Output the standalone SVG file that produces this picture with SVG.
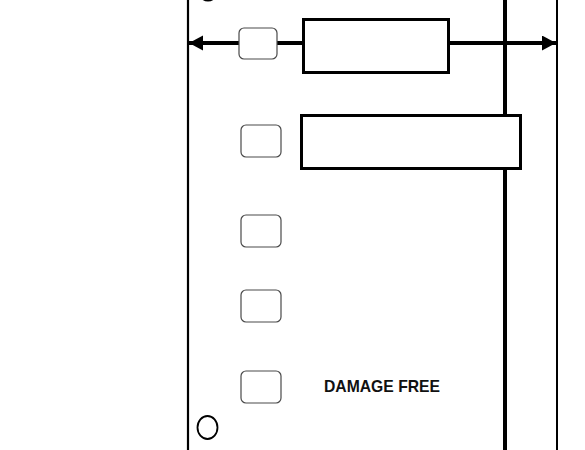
<svg xmlns="http://www.w3.org/2000/svg" width="585" height="450" viewBox="0 0 585 450">
<style>
.lane{stroke:#000;fill:none}
.box{fill:#fff;stroke:#000;stroke-width:3}
.rr{fill:#fff;stroke:#4a4a4a;stroke-width:1.2}
.lbl{font-family:"Liberation Sans",Arial,sans-serif;font-weight:bold;font-size:17px;fill:#111}
</style>
<defs>
<marker id="ah" markerWidth="16" markerHeight="16" refX="14" refY="7.5" orient="auto-start-reverse" markerUnits="userSpaceOnUse">
<path d="M0,0 L14,7.5 L0,15 Z" fill="#000"/>
</marker>
</defs>
<rect width="585" height="450" fill="#fff"/>
<g id="connectors">
<line class="lane" x1="188" y1="0" x2="188" y2="450" stroke-width="2.2"/>
<line class="lane" x1="557" y1="0" x2="557" y2="450" stroke-width="2"/>
<line class="lane" x1="505" y1="0" x2="505" y2="450" stroke-width="4"/>
<line class="lane" x1="189" y1="43" x2="556" y2="43" stroke-width="4" marker-start="url(#ah)" marker-end="url(#ah)"/>
</g>
<g id="top-circle"><ellipse cx="208" cy="-11" rx="10" ry="11.5" fill="none" stroke="#000" stroke-width="2"/></g>
<g id="small-box-0"><rect class="rr" x="239" y="28" width="38" height="31" rx="5"/></g>
<g id="box-1"><rect class="box" x="303.5" y="19.5" width="145" height="53"/></g>
<g id="small-box-1"><rect class="rr" x="241" y="125" width="40" height="32" rx="5"/></g>
<g id="box-2"><rect class="box" x="301.5" y="115.5" width="219" height="53"/></g>
<g id="small-box-2"><rect class="rr" x="241" y="215" width="40" height="32" rx="5"/></g>
<g id="small-box-3"><rect class="rr" x="241" y="290" width="40" height="32" rx="5"/></g>
<g id="small-box-4"><rect class="rr" x="241" y="371" width="40" height="32" rx="5"/></g>
<g id="label"><text class="lbl" x="324" y="392" textLength="116" lengthAdjust="spacingAndGlyphs">DAMAGE FREE</text></g>
<g id="circle"><ellipse cx="207.5" cy="427.5" rx="10" ry="11.5" fill="#fff" stroke="#000" stroke-width="1.8"/></g>
</svg>
